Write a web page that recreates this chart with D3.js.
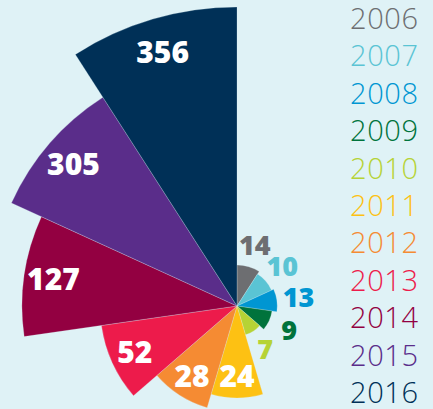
<!DOCTYPE html>
<html>
<head>
<meta charset="utf-8">
<script src="https://cdn.jsdelivr.net/npm/d3@7"></script>
<style>
  html, body { margin: 0; padding: 0; background: #dff2f6; }
  svg { display: block; }
  text { font-family: "Open Sans", Lato, sans-serif; }
</style>
</head>
<body>
<div id="chart"></div>
<script>

var years = ['2006', '2007', '2008', '2009', '2010', '2011',
  '2012', '2013', '2014', '2015', '2016'];
var values = [14, 10, 13, 9, 7, 24, 28, 52, 127, 305, 356];
var colors = ['#6d6e71', '#5ac4d4', '#0096d2', '#00733c', '#b6d335',
  '#fdc113', '#f58b33', '#ed1b4b', '#930041', '#5a2d8a', '#003057'];

var width = 433, height = 409;
var cx = 237, cy = 306;

var svg = d3.select('#chart').append('svg')
  .attr('width', width)
  .attr('height', height);

// The wedges are not drawn to a strict area rule in the original,
// so the radius goes through a piecewise scale.
var r = d3.scaleLinear()
  .domain([0, 7, 10, 14, 24, 28, 52, 127, 305, 356])
  .range([0, 30, 38, 41, 92, 106, 137, 215, 248, 299]);

var angle = d3.scaleBand()
  .domain(years)
  .range([0, 2 * Math.PI])
  .padding(0);

var color = d3.scaleOrdinal().domain(years).range(colors);

var data = years.map(function(y, i) {
  return { year: y, value: values[i] };
});

var arc = d3.arc()
  .innerRadius(0)
  .outerRadius(function(d) { return r(d.value); })
  .startAngle(function(d) { return angle(d.year); })
  .endAngle(function(d) { return angle(d.year) + angle.bandwidth(); });

var g = svg.append('g').attr('transform', 'translate(' + cx + ',' + cy + ')');

g.selectAll('path')
  .data(data)
  .enter().append('path')
  .attr('d', arc)
  .attr('fill', function(d) { return color(d.year); })
  .attr('stroke', '#dff2f6')
  .attr('stroke-width', 0.4)
  .attr('stroke-opacity', 0.6);

// Big wedges get a white label inside, small ones a coloured one outside.
function labelPos(d) {
  var mid = angle(d.year) + angle.bandwidth() / 2;
  var rr = r(d.value);
  var lr = d.value > 20 ? rr * 0.937 - 16 : rr + 22;
  return d3.pointRadial(mid, lr);
}

g.selectAll('text.val')
  .data(data)
  .enter().append('text')
  .attr('class', 'val')
  .attr('x', function(d) { return labelPos(d)[0]; })
  .attr('y', function(d) { return labelPos(d)[1]; })
  .attr('dy', '0.36em')
  .attr('text-anchor', 'middle')
  .attr('font-size', function(d) { return d.value > 20 ? 30 : 27; })
  .attr('font-weight', 800)
  .attr('fill', function(d) { return d.value > 20 ? '#fff' : color(d.year); })
  .text(function(d) { return d.value; });

// Legend.
var ly = d3.scalePoint().domain(years).range([29, 403]);

svg.selectAll('text.legend')
  .data(years)
  .enter().append('text')
  .attr('class', 'legend')
  .attr('x', 350)
  .attr('y', function(d) { return ly(d); })
  .attr('font-size', 29)
  .attr('font-weight', 300)
  .attr('letter-spacing', 0.6)
  .attr('fill', function(d) { return color(d); })
  .text(function(d) { return d; });

</script>
</body>
</html>
